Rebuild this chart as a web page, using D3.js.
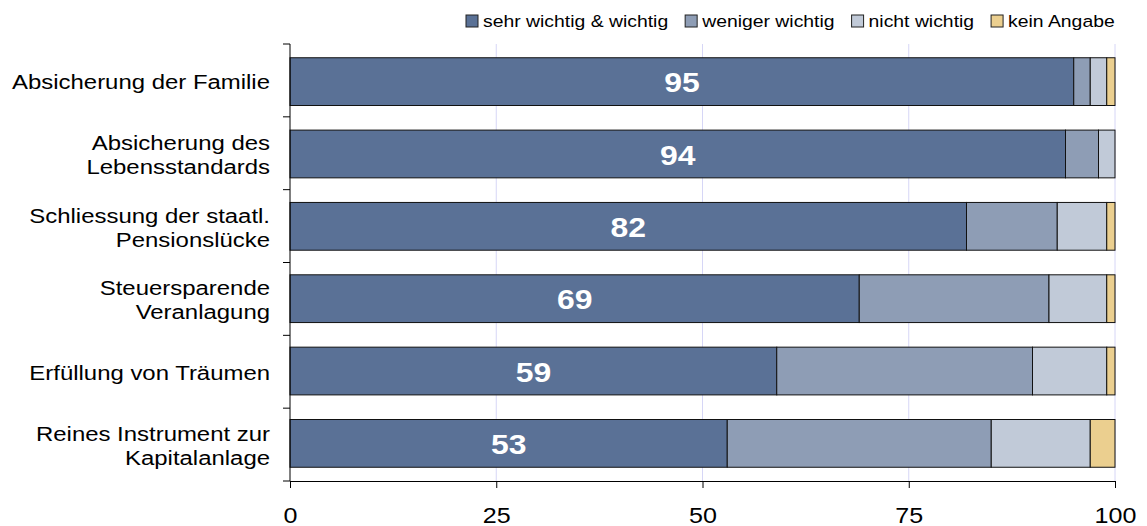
<!DOCTYPE html>
<html>
<head>
<meta charset="utf-8">
<script src="https://cdn.jsdelivr.net/npm/d3@7"></script>
<style>
  body { margin: 0; background: #fff; }
  svg { font-family: Arial, "Liberation Sans", sans-serif; }
</style>
</head>
<body>
<div id="chart"></div>
<script>
// data
const categories = [
    ['Absicherung der Familie'],
    ['Absicherung des', 'Lebensstandards'],
    ['Schliessung der staatl.', 'Pensionslücke'],
    ['Steuersparende', 'Veranlagung'],
    ['Erfüllung von Träumen'],
    ['Reines Instrument zur', 'Kapitalanlage']
];
const seriesNames = ['sehr wichtig & wichtig', 'weniger wichtig', 'nicht wichtig', 'kein Angabe'];
const wichtig = [95, 94, 82, 69, 59, 53];
const weniger = [2, 4, 11, 23, 31, 32];
const nicht = [2, 2, 6, 7, 9, 12];
const keine = [1, 0, 1, 1, 1, 3];
const xTicks = [0, 25, 50, 75, 100];
const colors = ['#5A7196', '#8E9DB5', '#C1CAD8', '#EBCF8F'];

const width = 1147, height = 526;
const margin = { top: 44, right: 32, bottom: 45, left: 290 };
const innerW = width - margin.left - margin.right;
const innerH = height - margin.top - margin.bottom;
const stretch = 1.14; // text in the picture is a bit wider than plain Arial

const svg = d3.select('#chart').append('svg')
    .attr('width', width)
    .attr('height', height);

const g = svg.append('g')
    .attr('transform', `translate(${margin.left}, ${margin.top})`);

const x = d3.scaleLinear().domain([0, 100]).range([0, innerW]);
const y = d3.scaleBand()
    .domain(d3.range(categories.length))
    .range([0, innerH])
    .paddingInner(0.34)
    .paddingOuter(0.19);

// gridlines
g.selectAll('.grid')
    .data(xTicks.filter(t => t > 0))
    .enter().append('line')
    .attr('x1', d => x(d)).attr('x2', d => x(d))
    .attr('y1', 0).attr('y2', innerH)
    .attr('stroke', '#D6D6F6')
    .attr('stroke-width', 1);

// stack
const rows = categories.map((c, i) => ({ i, vals: [wichtig[i], weniger[i], nicht[i], keine[i]] }));
const segs = [];
rows.forEach(r => {
    let acc = 0;
    r.vals.forEach((v, k) => {
        segs.push({ i: r.i, k, x0: acc, x1: acc + v });
        acc += v;
    });
});

g.selectAll('.seg')
    .data(segs.filter(s => s.x1 > s.x0))
    .enter().append('rect')
    .attr('class', 'seg')
    .attr('x', d => x(d.x0))
    .attr('width', d => x(d.x1) - x(d.x0))
    .attr('y', d => y(d.i))
    .attr('height', y.bandwidth())
    .attr('fill', d => colors[d.k])
    .attr('stroke', '#111')
    .attr('stroke-width', 1);

// value labels in first segment
g.selectAll('.val')
    .data(wichtig)
    .enter().append('text')
    .attr('transform', (d, i) => `translate(${x(d / 2)}, ${y(i) + y.bandwidth() / 2 + 1}) scale(${stretch}, 1)`)
    .attr('dy', '0.35em')
    .attr('text-anchor', 'middle')
    .attr('fill', '#fff')
    .attr('font-weight', 'bold')
    .attr('font-size', 28)
    .text(d => d);

// y axis line + ticks between categories
const yAxis = g.append('g');
yAxis.append('line')
    .attr('x1', 0).attr('x2', 0).attr('y1', 0).attr('y2', innerH)
    .attr('stroke', '#000');
yAxis.selectAll('.ytick')
    .data(d3.range(categories.length + 1))
    .enter().append('line')
    .attr('x1', -7).attr('x2', 0)
    .attr('y1', d => d * innerH / categories.length)
    .attr('y2', d => d * innerH / categories.length)
    .attr('stroke', '#000');

// category labels
const catG = g.selectAll('.cat')
    .data(categories)
    .enter().append('text')
    .attr('text-anchor', 'end')
    .attr('font-size', 21)
    .attr('fill', '#000')
    .attr('transform', (d, i) => `translate(-20, ${(i + 0.5) * innerH / categories.length + 1}) scale(${stretch}, 1)`);
catG.selectAll('tspan')
    .data(d => d.map((t, j) => ({ t, j, n: d.length })))
    .enter().append('tspan')
    .attr('x', 0)
    .attr('y', d => (d.j - (d.n - 1) / 2) * 24)
    .attr('dy', '0.36em')
    .text(d => d.t);

// x axis
const xAxis = g.append('g')
    .attr('transform', `translate(0, ${innerH})`)
    .call(d3.axisBottom(x).tickValues(xTicks).tickSize(7).tickPadding(19).tickSizeOuter(0));
xAxis.select('.domain').attr('stroke', '#000');
xAxis.selectAll('.tick line').attr('stroke', '#000');
xAxis.selectAll('.tick text')
    .attr('font-size', 22)
    .attr('font-family', 'Arial, "Liberation Sans", sans-serif')
    .attr('fill', '#000')
    .attr('transform', `scale(${stretch}, 1)`);

// legend
const legend = svg.append('g').attr('transform', 'translate(0, 21)');
let lx = 466;
seriesNames.forEach((name, k) => {
    const item = legend.append('g').attr('transform', `translate(${lx}, 0)`);
    item.append('rect')
        .attr('x', 0).attr('y', -6)
        .attr('width', 12).attr('height', 12)
        .attr('fill', colors[k])
        .attr('stroke', '#222');
    const t = item.append('text')
        .attr('transform', `translate(17, 0) scale(${stretch}, 1)`)
        .attr('dy', '0.35em')
        .attr('font-size', 17)
        .attr('fill', '#000')
        .text(name);
    lx += 17 + t.node().getComputedTextLength() * stretch + 17;
});
</script>
</body>
</html>
